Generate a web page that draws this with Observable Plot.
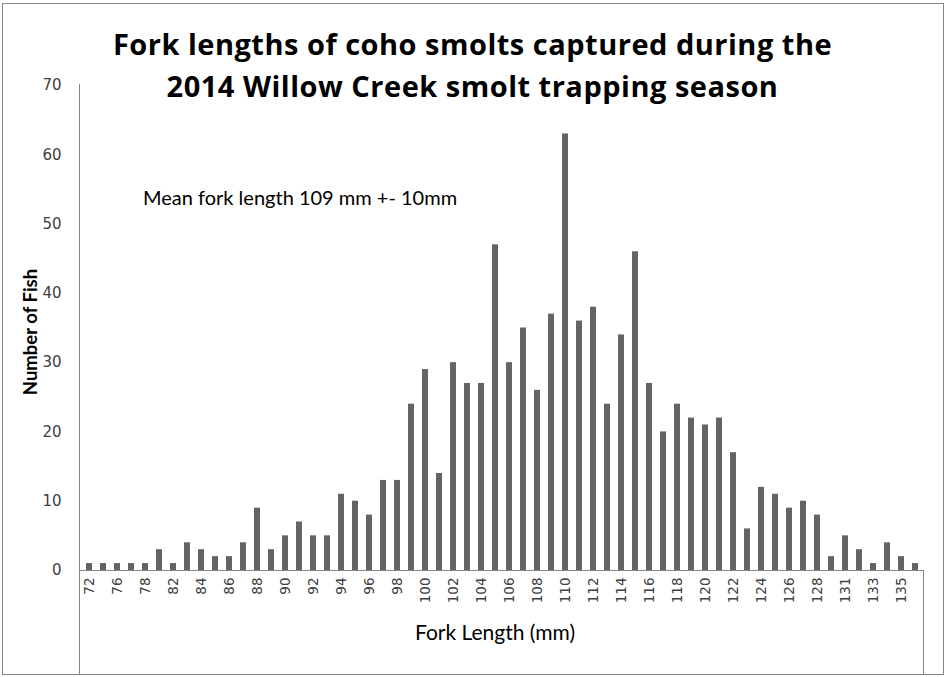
<!DOCTYPE html>
<html><head><meta charset="utf-8">
<script src="https://cdn.jsdelivr.net/npm/d3@7"></script>
<script src="https://cdn.jsdelivr.net/npm/@observablehq/plot@0.6"></script>
<style>
body{margin:0;background:#fff;}
#chart{position:relative;width:948px;height:677px;overflow:hidden;background:#fff;}
#chart svg{position:absolute;left:0;top:0;}
.frame{position:absolute;left:2px;top:3px;width:942px;height:672px;border:1px solid #868686;box-sizing:border-box;}
.vline{position:absolute;width:0;border-left:1px solid #868686;}
.title{position:absolute;left:0;top:23px;width:945px;text-align:center;font-family:'Open Sans',sans-serif;font-weight:bold;font-size:29px;letter-spacing:0.5px;line-height:42px;color:#000;}
.note{position:absolute;left:143px;top:185px;font-family:Lato,sans-serif;font-size:20px;color:#000;white-space:nowrap;}
.xlabel{position:absolute;left:0;width:990px;top:619px;text-align:center;font-family:Lato,sans-serif;font-size:21px;color:#000;}
.ylabel{position:absolute;left:30px;top:332px;transform:translate(-50%,-50%) rotate(-90deg);font-family:Lato,sans-serif;font-weight:bold;font-size:18.5px;color:#000;white-space:nowrap;}
</style></head><body>
<div id="chart"></div>
<script>
const lengths = [72,74,76,77,78,80,82,83,84,85,86,87,88,89,90,91,92,93,94,95,96,97,98,99,100,101,102,103,104,105,106,107,108,109,110,111,112,113,114,115,116,117,118,119,120,121,122,123,124,125,126,127,128,130,131,132,133,134,135,136];
const counts = [1,1,1,1,1,3,1,4,3,2,2,4,9,3,5,7,5,5,11,10,8,13,13,24,29,14,30,27,27,47,30,35,26,37,63,36,38,24,34,46,27,20,24,22,21,22,17,6,12,11,9,10,8,2,5,3,1,4,2,1];
const xTickLabels = [72,76,78,82,84,86,88,90,92,94,96,98,100,102,104,106,108,110,112,114,116,118,120,122,124,126,128,131,133,135];
const yTicks = [0,10,20,30,40,50,60,70];
const titleText = ["Fork lengths of coho smolts captured during the","2014 Willow Creek smolt trapping season"];
const noteText = "Mean fork length 109 mm +- 10mm";
const xLabel = "Fork Length (mm)";
const yLabel = "Number of Fish";

const data = lengths.map((l,i)=>({length:l, count:counts[i]}));

const chart = Plot.plot({
  width: 948, height: 677,
  marginLeft: 79, marginRight: 24, marginTop: 85, marginBottom: 107,
  style: {fontFamily: "'DejaVu Sans', sans-serif", color: "#404040", background: "transparent"},
  x: {type: "band", domain: lengths, paddingInner: 0.58, paddingOuter: 0.29, label: null},
  y: {domain: [0,70], label: null},
  marks: [
    Plot.barY(data, {x: "length", y: "count", fill: "#646464"}),
    Plot.ruleY([0], {stroke: "#868686"}),
    Plot.axisY({ticks: yTicks, tickSize: 0, tickPadding: 18, fontSize: 15, label: null}),
    Plot.axisX({ticks: xTickLabels, tickSize: 0, tickPadding: 7, tickRotate: -90, fontSize: 13.5, label: null})
  ]
});

const root = document.getElementById("chart");
root.appendChild(chart);
root.insertAdjacentHTML("beforeend",
  `<div class="frame"></div>
   <div class="vline" style="left:79px;top:84px;height:591px"></div>
   <div class="vline" style="left:923px;top:570px;height:105px"></div>
   <div class="title">${titleText.join("<br>")}</div>
   <div class="note">${noteText}</div>
   <div class="xlabel">${xLabel}</div>
   <div class="ylabel">${yLabel}</div>`);
</script>
</body></html>
